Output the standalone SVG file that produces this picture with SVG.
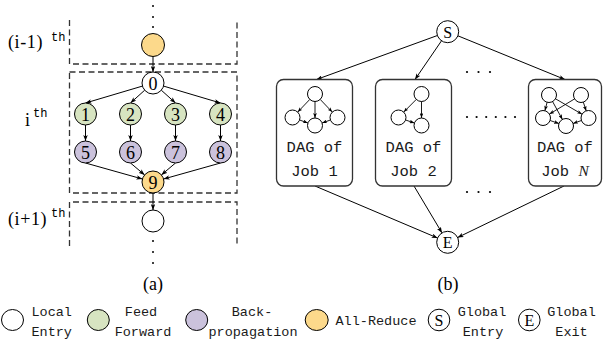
<svg xmlns="http://www.w3.org/2000/svg" width="603" height="343" viewBox="0 0 603 343">
<style>
.n{stroke:#000;stroke-width:1}
.w{fill:#fff}.g{fill:#d7e4c1}.p{fill:#cbc2dc}.y{fill:#fcd98b}
.num{font-family:"Liberation Serif",serif;font-size:18px;text-anchor:middle}
.lbl{font-family:"Liberation Serif",serif;font-size:18px}
.sp{letter-spacing:0.6px}
.sup{font-family:"Liberation Mono",monospace;font-size:12px}
.mono{font-family:"Liberation Mono",monospace;font-size:13.5px;text-anchor:middle;fill:#1a1a1a}
.box{font-family:"Liberation Mono",monospace;font-size:15.5px;text-anchor:middle;fill:#1a1a1a}
.dash{fill:none;stroke:#333;stroke-width:1.3;stroke-dasharray:6 3.5}
.e{stroke:#000;stroke-width:1;fill:none;marker-end:url(#ah)}
.es{stroke:#000;stroke-width:0.9;fill:none;marker-end:url(#ahs)}
.bx{fill:#fff;stroke:#333;stroke-width:1.3}
</style>
<defs>
<marker id="ah" viewBox="0 0 8 6" refX="8" refY="3" markerWidth="6" markerHeight="4.5" orient="auto" markerUnits="userSpaceOnUse"><path d="M0,0 L8,3 L0,6 L2,3 z" fill="#000"/></marker>
<marker id="ahs" viewBox="0 0 8 6" refX="8" refY="3" markerWidth="5" markerHeight="3.8" orient="auto" markerUnits="userSpaceOnUse"><path d="M0,0 L8,3 L0,6 L2,3 z" fill="#000"/></marker>
</defs>
<rect width="603" height="343" fill="#fff"/>

<!-- (a) stage boxes -->
<g id="stages">
<path class="dash" d="M69.5,20 V64 H237 V20"/>
<rect class="dash" x="69.5" y="72" width="167.5" height="121"/>
<path class="dash" d="M69.5,246 V202 H237 V246"/>
</g>
<g id="labels-a">
<text class="lbl sp" x="8" y="48">(i-1)</text><text class="sup" x="51" y="41">th</text>
<text class="lbl" x="25" y="126">i</text><text class="sup" x="33" y="117">th</text>
<text class="lbl sp" x="8" y="225">(i+1)</text><text class="sup" x="51" y="217">th</text>
<text class="lbl" x="153" y="290" text-anchor="middle">(a)</text>
</g>
<g id="dots-a" fill="#000">
<circle cx="153" cy="6" r="1"/><circle cx="153" cy="17" r="1"/><circle cx="153" cy="27" r="1"/>
<circle cx="153" cy="241" r="1"/><circle cx="153" cy="252" r="1"/><circle cx="153" cy="263" r="1"/>
</g>

<g id="connectors-a">
<line class="e" x1="153" y1="56.5" x2="153" y2="72"/>
<line class="e" x1="142.4" y1="86.1" x2="85.5" y2="103"/>
<line class="e" x1="144.7" y1="90.2" x2="130.5" y2="103"/>
<line class="e" x1="161.3" y1="90.2" x2="175.5" y2="103"/>
<line class="e" x1="163.6" y1="86.1" x2="220.5" y2="103"/>
<line class="e" x1="85.5" y1="125" x2="85.5" y2="141"/>
<line class="e" x1="130.5" y1="125" x2="130.5" y2="141"/>
<line class="e" x1="175.5" y1="125" x2="175.5" y2="141"/>
<line class="e" x1="220.5" y1="125" x2="220.5" y2="141"/>
<line class="e" x1="85.5" y1="163" x2="142.4" y2="179"/>
<line class="e" x1="130.5" y1="163" x2="144.6" y2="174.9"/>
<line class="e" x1="175.5" y1="163" x2="161.4" y2="174.9"/>
<line class="e" x1="220.5" y1="163" x2="163.6" y2="179"/>
<line class="e" x1="153" y1="193" x2="153" y2="210"/>
</g>

<g id="node-prev"><circle class="n y" cx="153" cy="45" r="11.5"/></g>
<g id="node-0"><circle class="n w" cx="153" cy="83" r="11"/><text class="num" x="153" y="89.5">0</text></g>
<g id="node-1"><circle class="n g" cx="85.5" cy="114" r="11"/><text class="num" x="85.5" y="120.5">1</text></g>
<g id="node-2"><circle class="n g" cx="130.5" cy="114" r="11"/><text class="num" x="130.5" y="120.5">2</text></g>
<g id="node-3"><circle class="n g" cx="175.5" cy="114" r="11"/><text class="num" x="175.5" y="120.5">3</text></g>
<g id="node-4"><circle class="n g" cx="220.5" cy="114" r="11"/><text class="num" x="220.5" y="120.5">4</text></g>
<g id="node-5"><circle class="n p" cx="85.5" cy="152" r="11"/><text class="num" x="85.5" y="158.5">5</text></g>
<g id="node-6"><circle class="n p" cx="130.5" cy="152" r="11"/><text class="num" x="130.5" y="158.5">6</text></g>
<g id="node-7"><circle class="n p" cx="175.5" cy="152" r="11"/><text class="num" x="175.5" y="158.5">7</text></g>
<g id="node-8"><circle class="n p" cx="220.5" cy="152" r="11"/><text class="num" x="220.5" y="158.5">8</text></g>
<g id="node-9"><circle class="n y" cx="153" cy="182" r="11"/><text class="num" x="153" y="188.5">9</text></g>
<g id="node-next"><circle class="n w" cx="153" cy="221" r="11"/></g>

<!-- (b) -->
<g id="connectors-b">
<line class="e" x1="437.4" y1="35.5" x2="316.5" y2="79.5"/>
<line class="e" x1="441.5" y1="40.8" x2="415" y2="79.5"/>
<line class="e" x1="457.9" y1="35.8" x2="565" y2="79.5"/>
<line class="e" x1="315" y1="186" x2="437.6" y2="238"/>
<line class="e" x1="414" y1="186" x2="442" y2="232.9"/>
<line class="e" x1="564" y1="186" x2="457.6" y2="237.5"/>
</g>
<g id="node-S"><circle class="n w" cx="447.7" cy="31.7" r="11"/><text class="num" style="font-size:16px" x="447.7" y="37.5">S</text></g>
<g id="node-E"><circle class="n w" cx="447.7" cy="242.3" r="11"/><text class="num" style="font-size:16px" x="447.7" y="248">E</text></g>

<g id="job-1">
<rect class="bx" x="276.5" y="79.5" width="76" height="106.5" rx="7"/>
<g class="n w"><circle cx="315" cy="94" r="7.5"/><circle cx="292.5" cy="117.5" r="7.5"/><circle cx="315" cy="125.5" r="7.5"/><circle cx="337.5" cy="117.5" r="7.5"/></g>
<line class="es" x1="309.8" y1="99.4" x2="297.7" y2="112.1"/>
<line class="es" x1="315" y1="101.5" x2="315" y2="118"/>
<line class="es" x1="320.2" y1="99.4" x2="332.3" y2="112.1"/>
<line class="es" x1="299.6" y1="120" x2="307.9" y2="123"/>
<line class="es" x1="330.4" y1="120" x2="322.1" y2="123"/>
<text class="box" x="314.5" y="152">DAG of</text>
<text class="box" x="314.5" y="176">Job 1</text>
</g>
<g id="job-2">
<rect class="bx" x="375.5" y="79.5" width="76" height="106.5" rx="7"/>
<g class="n w"><circle cx="421.5" cy="94" r="7.5"/><circle cx="398.5" cy="117.5" r="7.5"/><circle cx="421.5" cy="125.5" r="7.5"/></g>
<line class="es" x1="416.3" y1="99.4" x2="403.7" y2="112.1"/>
<line class="es" x1="421.5" y1="101.5" x2="421.5" y2="118"/>
<line class="es" x1="405.6" y1="120" x2="414.4" y2="123"/>
<text class="box" x="413.5" y="152">DAG of</text>
<text class="box" x="413.5" y="176">Job 2</text>
</g>
<g id="job-N">
<rect class="bx" x="528.5" y="79.5" width="73" height="106.5" rx="7"/>
<g class="n w"><circle cx="549" cy="95" r="7.5"/><circle cx="581" cy="95" r="7.5"/><circle cx="543" cy="118" r="7.5"/><circle cx="566" cy="126" r="7.5"/><circle cx="588.5" cy="118" r="7.5"/></g>
<line class="es" x1="547.1" y1="102.3" x2="544.9" y2="110.7"/>
<line class="es" x1="552.6" y1="101.6" x2="562.4" y2="119.4"/>
<line class="es" x1="555.5" y1="98.8" x2="582" y2="114.2"/>
<line class="es" x1="574.6" y1="98.9" x2="549.4" y2="114.1"/>
<line class="es" x1="583.3" y1="102.1" x2="586.2" y2="110.9"/>
<line class="es" x1="550.1" y1="120.5" x2="558.9" y2="123.5"/>
<line class="es" x1="581.4" y1="120.5" x2="573.1" y2="123.5"/>
<text class="box" x="565" y="152">DAG of</text>
<text class="box" x="565" y="176">Job <tspan style="font-family:'Liberation Serif',serif;font-style:italic">N</tspan></text>
</g>
<g id="dots-b" fill="#000">
<circle cx="467" cy="72" r="1.1"/><circle cx="478.5" cy="72" r="1.1"/><circle cx="490" cy="72" r="1.1"/>
<circle cx="467" cy="117" r="1.1"/><circle cx="476.6" cy="117" r="1.1"/><circle cx="486.2" cy="117" r="1.1"/><circle cx="495.8" cy="117" r="1.1"/><circle cx="505.4" cy="117" r="1.1"/><circle cx="515" cy="117" r="1.1"/>
<circle cx="467" cy="192" r="1.1"/><circle cx="478.5" cy="192" r="1.1"/><circle cx="490" cy="192" r="1.1"/>
</g>
<text class="lbl" x="448" y="290" text-anchor="middle">(b)</text>

<!-- legend -->
<g id="legend">
<ellipse class="n w" cx="12.5" cy="320" rx="11" ry="10.5"/>
<text class="mono" x="51.7" y="315.5">Local</text><text class="mono" x="51.7" y="335.5">Entry</text>
<ellipse class="n g" cx="98.3" cy="320" rx="11" ry="10.5"/>
<text class="mono" x="141" y="315.5">Feed</text><text class="mono" x="143" y="335.5">Forward</text>
<ellipse class="n p" cx="196.7" cy="320" rx="11" ry="10.5"/>
<text class="mono" x="252" y="315.5">Back-</text><text class="mono" x="253" y="335.5">propagation</text>
<ellipse class="n y" cx="316.7" cy="320" rx="11.5" ry="10.5"/>
<text class="mono" x="376" y="325">All-Reduce</text>
<circle class="n w" cx="439" cy="320" r="10.8"/><text class="num" style="font-size:16px" x="439" y="325.5">S</text>
<text class="mono" x="482" y="315.5">Global</text><text class="mono" x="483" y="335.5">Entry</text>
<circle class="n w" cx="529.3" cy="320" r="10.8"/><text class="num" style="font-size:16px" x="529.3" y="325.5">E</text>
<text class="mono" x="571.5" y="315.5">Global</text><text class="mono" x="571.5" y="335.5">Exit</text>
</g>
</svg>
